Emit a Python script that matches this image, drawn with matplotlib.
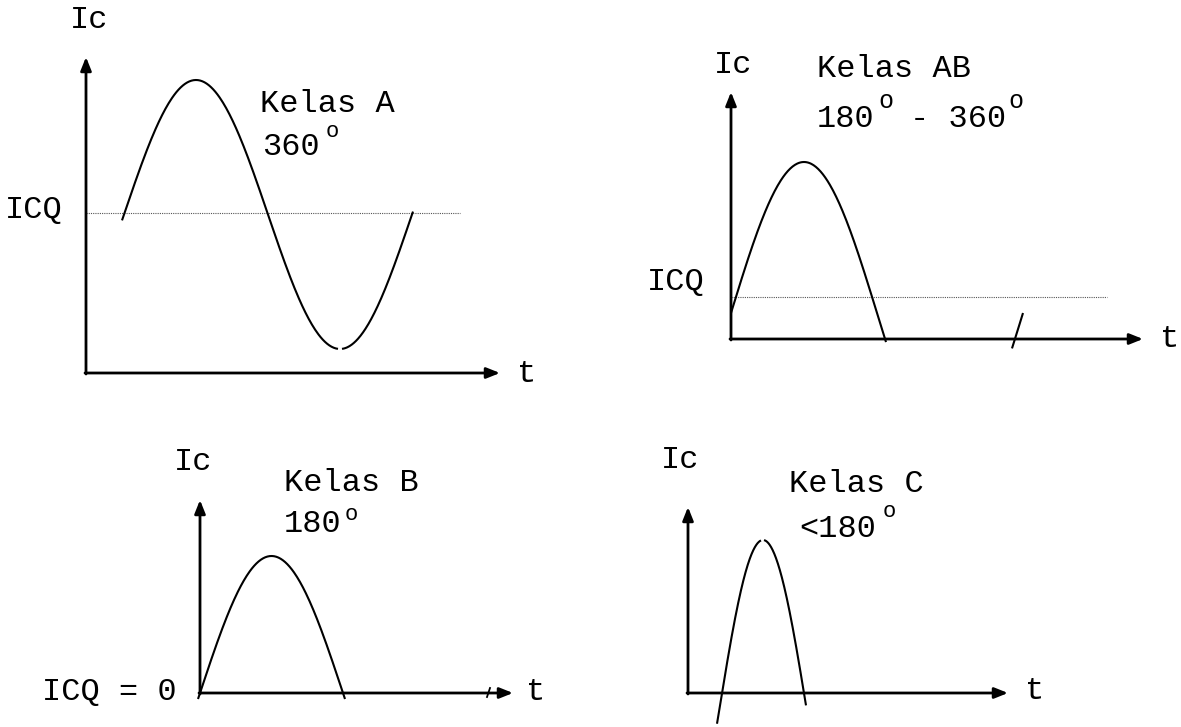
import numpy as np
import matplotlib.pyplot as plt

# Four panels: Kelas A, AB, B, C (pixel coordinates of the original drawing)
panels = ["A", "AB", "B", "C"]
origin_x = [86, 731, 200, 688]
origin_y = [373, 339, 693, 693]
yaxis_top = [57, 92, 500, 507]
xaxis_end = [500, 1143, 513, 1008]

# quiescent level line (dotted), only A and AB
icq_level = [213, 297, None, None]
icq_end = [460, 1107, None, None]

# waveform: peak position, centre level, amplitude, half period
peak_x = [196, 804, 271.5, 763]
center_y = [214.5, 313, 693, 711.5]
amplitude = [134.5, 151, 137, 171.5]
half_period = [144, 146, 143, 88]
segments = [
    [(122, 338), (342, 413)],
    [(731, 886), (1012, 1023)],
    [(198, 345)],
    [(717, 761), (764, 806)],
]

# labels: (text, x, baseline y, size)
labels = [
    ("Ic", 70, 28, 23), ("Kelas A", 260, 112, 23), ("360", 262, 155, 23),
    ("o", 326, 137, 16), ("ICQ", 5, 218, 23), ("t", 517, 382, 23),
    ("Ic", 714, 73, 23), ("Kelas AB", 817, 77, 23), ("180", 817, 127, 23),
    ("o", 878, 108, 18), ("- 360", 910, 127, 23), ("o", 1008, 108, 18),
    ("ICQ", 647, 290, 23), ("t", 1160, 347, 23),
    ("Ic", 174, 470, 23), ("Kelas B", 284, 491, 23), ("180", 284, 532, 23),
    ("o", 345, 520, 16), ("ICQ = 0", 42, 700, 23), ("t", 526, 700, 23),
    ("Ic", 661, 468, 23), ("Kelas C", 789, 492, 23), ("<180", 799, 537, 23),
    ("o", 883, 517, 16), ("t", 1025, 699, 23),
]

# small stray stroke on the B time axis
stray_x = [487, 490]
stray_y = [697, 688]

fig = plt.figure(figsize=(11.81, 7.27), dpi=100)
ax = fig.add_axes([0, 0, 1, 1])
ax.set_xlim(0, 1181)
ax.set_ylim(727, 0)
ax.axis("off")

arrow = dict(arrowstyle="-|>,head_length=0.4,head_width=0.16", color="black",
             lw=2.0, mutation_scale=20, shrinkA=0, shrinkB=0)

for i, name in enumerate(panels):
    ox, oy = origin_x[i], origin_y[i]
    # axes
    ax.annotate("", xy=(ox, yaxis_top[i]), xytext=(ox, oy + 1), arrowprops=arrow)
    ax.annotate("", xy=(xaxis_end[i], oy), xytext=(ox - 1, oy), arrowprops=arrow)

    if icq_level[i] is not None:
        ax.plot([ox, icq_end[i]], [icq_level[i], icq_level[i]],
                color="#555555", lw=0.8, linestyle=(0, (1, 1)))

    for x0, x1 in segments[i]:
        xs = np.linspace(x0, x1, 200)
        ys = center_y[i] - amplitude[i] * np.cos(np.pi * (xs - peak_x[i]) / half_period[i])
        ax.plot(xs, ys, color="black", lw=1.5, solid_capstyle="butt")

ax.plot(stray_x, stray_y, color="black", lw=1.3)

for text, x, y, size in labels:
    ax.text(x, y, text, fontsize=size, family="Liberation Mono",
            ha="left", va="baseline", color="black")

fig.savefig("out.png", dpi=100)
